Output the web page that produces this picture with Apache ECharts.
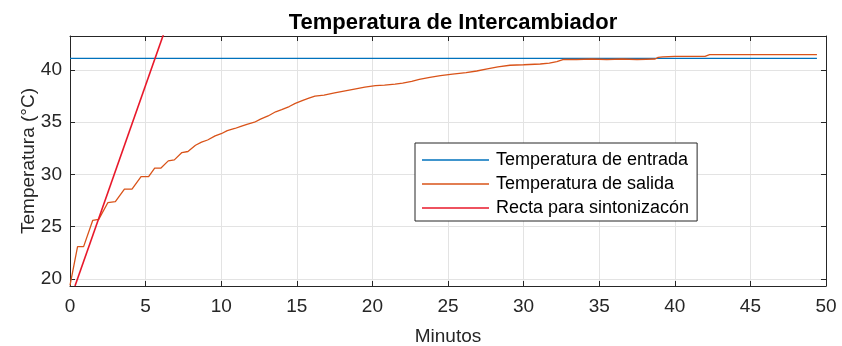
<!DOCTYPE html>
<html>
<head>
<meta charset="utf-8">
<script src="https://cdn.jsdelivr.net/npm/echarts@6/dist/echarts.min.js"></script>
<style>
  html, body { margin: 0; padding: 0; background: #fff; }
  #chart { width: 842px; height: 346px; }
</style>
</head>
<body>
<div id="chart"></div>
<script>
// Heat-exchanger temperature log (minutes vs °C)
const xTicks = [0, 5, 10, 15, 20, 25, 30, 35, 40, 45, 50];
const yTicks = [20, 25, 30, 35, 40];

// Inlet temperature (constant)
const entradaT = [0, 49.4];
const entradaV = [41.1, 41.1];

// Outlet temperature readings
const salidaT = [0.0, 0.1, 0.5, 0.9, 1.5, 1.9, 2.5, 3.0, 3.6, 4.1, 4.7, 5.2, 5.6, 6.0, 6.5, 6.9,
  7.4, 7.8, 8.3, 8.7, 9.1, 9.6, 10.0, 10.4, 10.9, 11.3, 11.7, 12.2, 12.6, 13.1, 13.6, 14.0,
  14.5, 14.9, 15.4, 15.8, 16.2, 16.8, 17.5, 18.2, 18.9, 19.5, 20.2, 20.8, 21.5, 22.0, 22.6,
  23.1, 23.8, 24.5, 25.3, 26.2, 26.9, 27.6, 28.3, 29.1, 30.0, 31.1, 31.7, 32.2, 32.6, 33.5,
  34.5, 35.5, 36.5, 37.5, 38.7, 38.9, 39.2, 40.0, 41.0, 42.0, 42.3, 49.4];
const salidaV = [19.4, 19.5, 23.1, 23.1, 25.6, 25.7, 27.3, 27.4, 28.6, 28.6, 29.8, 29.8, 30.6, 30.6, 31.3, 31.4,
  32.1, 32.2, 32.8, 33.1, 33.3, 33.7, 33.9, 34.2, 34.4, 34.6, 34.8, 35.0, 35.3, 35.6, 36.0, 36.2,
  36.5, 36.8, 37.1, 37.3, 37.5, 37.6, 37.8, 38.0, 38.2, 38.35, 38.5, 38.55, 38.65, 38.75, 38.9,
  39.1, 39.3, 39.45, 39.6, 39.75, 39.9, 40.1, 40.3, 40.45, 40.5, 40.57, 40.65, 40.8, 41.0, 41.0,
  41.05, 41.0, 41.05, 41.0, 41.05, 41.2, 41.25, 41.3, 41.3, 41.3, 41.47, 41.47];

// Tuning line (tangent at the start of the response)
const rectaT = [0.33, 6.4];
const rectaV = [19.33, 44.3];

const names = ['Temperatura de entrada', 'Temperatura de salida', 'Recta para sintonizacón'];
const colors = ['#0072BD', '#D95319', '#E8182A'];

const xMin = 0, xMax = 50;
const yMin = 19.33, yMax = 43.25;

const zip = (a, b) => a.map((v, i) => [v, b[i]]);
const FONT = 'Liberation Sans, Arial, Helvetica, sans-serif';
const AX = '#262626';

const chart = echarts.init(document.getElementById('chart'), null, { renderer: 'canvas' });

const baseX = {
  type: 'value', min: xMin, max: xMax, interval: 5,
  axisLine: { show: true, onZero: false, lineStyle: { color: AX, width: 1 } },
  axisTick: { show: true, inside: true, length: 5, lineStyle: { color: AX } }
};
const baseY = {
  type: 'value', min: yMin, max: yMax, splitNumber: 5,
  axisLine: { show: true, onZero: false, lineStyle: { color: AX, width: 1 } },
  axisTick: { show: true, inside: true, length: 5, lineStyle: { color: AX } }
};

chart.setOption({
  animation: false,
  backgroundColor: '#fff',
  textStyle: { fontFamily: FONT },
  title: {
    text: 'Temperatura de Intercambiador',
    left: 448, textAlign: 'center', top: 7,
    textStyle: { fontFamily: FONT, fontSize: 22, fontWeight: 'bold', color: '#000' }
  },
  grid: { left: 70, right: 16, top: 36, bottom: 60, containLabel: false, outerBoundsMode: 'none' },
  legend: {
    orient: 'vertical', left: 415, top: 143,
    backgroundColor: '#fff', borderColor: AX, borderWidth: 1,
    padding: [8, 8, 4, 7],
    icon: 'rect', itemWidth: 67, itemHeight: 1.5, itemGap: 6,
    textStyle: { fontFamily: FONT, fontSize: 18, color: '#000', padding: [0, 0, 0, 2], lineHeight: 18 },
    data: names
  },
  xAxis: [
    Object.assign({}, baseX, {
      position: 'bottom',
      name: 'Minutos', nameLocation: 'middle', nameGap: 41, nameMoveOverlap: false,
      nameTextStyle: { fontFamily: FONT, fontSize: 19, color: AX },
      axisLabel: { show: true, margin: 11, fontFamily: FONT, fontSize: 19, color: AX,
        formatter: v => (xTicks.includes(v) ? String(v) : '') },
      splitLine: { show: true, lineStyle: { color: '#e3e3e3', width: 1 } }
    }),
    Object.assign({}, baseX, {
      position: 'top', axisLabel: { show: false }, splitLine: { show: false }
    })
  ],
  yAxis: [
    Object.assign({}, baseY, {
      position: 'left',
      name: 'Temperatura (°C)', nameLocation: 'middle', nameGap: 32, nameRotate: 90,
      nameMoveOverlap: false,
      nameTextStyle: { fontFamily: FONT, fontSize: 19, color: AX },
      axisLabel: { show: true, margin: 8, fontFamily: FONT, fontSize: 19, color: AX,
        showMinLabel: false, showMaxLabel: false,
        formatter: v => (yTicks.includes(v) ? String(v) : '') },
      splitLine: { show: true, lineStyle: { color: '#e3e3e3', width: 1 } }
    }),
    Object.assign({}, baseY, {
      position: 'right', axisLabel: { show: false }, splitLine: { show: false }
    })
  ],
  series: [
    { name: names[0], type: 'line', data: zip(entradaT, entradaV), symbol: 'none',
      clip: true, lineStyle: { color: colors[0], width: 1.3 }, itemStyle: { color: colors[0] } },
    { name: names[1], type: 'line', data: zip(salidaT, salidaV), symbol: 'none',
      clip: true, lineStyle: { color: colors[1], width: 1.3 }, itemStyle: { color: colors[1] } },
    { name: names[2], type: 'line', data: zip(rectaT, rectaV), symbol: 'none',
      clip: true, lineStyle: { color: colors[2], width: 1.6 }, itemStyle: { color: colors[2] } }
  ]
});
</script>
</body>
</html>
